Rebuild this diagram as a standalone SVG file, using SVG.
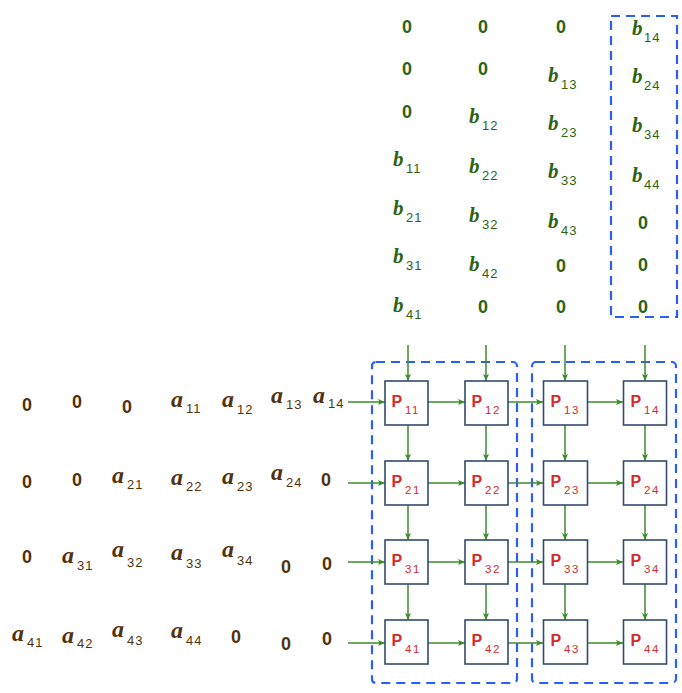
<svg xmlns="http://www.w3.org/2000/svg" width="682" height="693" viewBox="0 0 682 693">
<defs>
<marker id="ah" markerUnits="userSpaceOnUse" markerWidth="8" markerHeight="8" refX="7" refY="3.5" orient="auto">
<path d="M0,0.5 L7,3.5 L0,6.5 L1.5,3.5 z" fill="#3f8a2c"/>
</marker>
<style>
.z{font-family:"Liberation Sans",Arial,sans-serif;font-weight:bold;font-size:18px;text-anchor:middle}
.zb{fill:#2e6410}
.za{fill:#52320e}
.bv{font-family:"Liberation Serif","Times New Roman",serif;font-weight:bold;font-style:italic;font-size:21px;fill:#2e6410}
.av{font-family:"Liberation Serif","Times New Roman",serif;font-weight:bold;font-style:italic;font-size:24px;fill:#52320e}
.sub{font-family:"Liberation Sans",Arial,sans-serif;font-weight:normal;font-style:normal;font-size:13px;letter-spacing:1px}
.pe rect{fill:#fff;stroke:#324b6e;stroke-width:1.6}
.pe text{font-family:"Liberation Sans",Arial,sans-serif;fill:#d42a2a}
.pl{font-weight:bold;font-size:16px}
.ps{font-size:11.5px;letter-spacing:1.5px}
.dash{fill:none;stroke:#2a5ef5;stroke-width:2.2;stroke-dasharray:9 6}
.conn line{stroke:#3f8a2c;stroke-width:1.5;marker-end:url(#ah)}
</style>
</defs>
<rect width="682" height="693" fill="#fff"/>

<!-- dashed groups -->
<g id="groups">
<rect class="dash" x="611" y="16" width="66" height="301"/>
<rect class="dash" x="372" y="362" width="145" height="321" rx="4"/>
<rect class="dash" x="532" y="362" width="144" height="321" rx="4"/>
</g>

<!-- B matrix stream -->
<g id="b-stream">
<text class="z zb" x="407" y="33">0</text>
<text class="z zb" x="407" y="75">0</text>
<text class="z zb" x="407" y="118">0</text>
<text class="bv"><tspan x="393" y="166">b</tspan><tspan class="sub" x="406" y="173">11</tspan></text>
<text class="bv"><tspan x="393" y="215">b</tspan><tspan class="sub" x="406" y="222">21</tspan></text>
<text class="bv"><tspan x="393" y="263">b</tspan><tspan class="sub" x="406" y="270">31</tspan></text>
<text class="bv"><tspan x="393" y="312">b</tspan><tspan class="sub" x="406" y="319">41</tspan></text>

<text class="z zb" x="483" y="33">0</text>
<text class="z zb" x="483" y="75">0</text>
<text class="bv"><tspan x="469" y="123">b</tspan><tspan class="sub" x="482" y="130">12</tspan></text>
<text class="bv"><tspan x="469" y="173">b</tspan><tspan class="sub" x="482" y="180">22</tspan></text>
<text class="bv"><tspan x="469" y="222">b</tspan><tspan class="sub" x="482" y="229">32</tspan></text>
<text class="bv"><tspan x="469" y="271">b</tspan><tspan class="sub" x="482" y="278">42</tspan></text>
<text class="z zb" x="483" y="313">0</text>

<text class="z zb" x="561" y="33">0</text>
<text class="bv"><tspan x="548" y="82">b</tspan><tspan class="sub" x="561" y="89">13</tspan></text>
<text class="bv"><tspan x="548" y="130">b</tspan><tspan class="sub" x="561" y="137">23</tspan></text>
<text class="bv"><tspan x="548" y="178">b</tspan><tspan class="sub" x="561" y="185">33</tspan></text>
<text class="bv"><tspan x="548" y="228">b</tspan><tspan class="sub" x="561" y="235">43</tspan></text>
<text class="z zb" x="561" y="272">0</text>
<text class="z zb" x="561" y="313">0</text>

<text class="bv"><tspan x="632" y="35">b</tspan><tspan class="sub" x="644" y="42">14</tspan></text>
<text class="bv"><tspan x="632" y="83">b</tspan><tspan class="sub" x="644" y="90">24</tspan></text>
<text class="bv"><tspan x="632" y="132">b</tspan><tspan class="sub" x="644" y="139">34</tspan></text>
<text class="bv"><tspan x="632" y="182">b</tspan><tspan class="sub" x="644" y="189">44</tspan></text>
<text class="z zb" x="643" y="229">0</text>
<text class="z zb" x="643" y="271">0</text>
<text class="z zb" x="643" y="313">0</text>
</g>

<!-- A matrix stream -->
<g id="a-stream">
<text class="z za" x="27" y="411">0</text>
<text class="z za" x="77" y="408">0</text>
<text class="z za" x="127" y="413">0</text>
<text class="av"><tspan x="171" y="407">a</tspan><tspan class="sub" x="186" y="413">11</tspan></text>
<text class="av"><tspan x="222" y="407">a</tspan><tspan class="sub" x="237" y="414">12</tspan></text>
<text class="av"><tspan x="271" y="403">a</tspan><tspan class="sub" x="286" y="409">13</tspan></text>
<text class="av"><tspan x="313" y="403">a</tspan><tspan class="sub" x="328" y="408">14</tspan></text>

<text class="z za" x="27" y="488">0</text>
<text class="z za" x="77" y="486">0</text>
<text class="av"><tspan x="112" y="483">a</tspan><tspan class="sub" x="127" y="489">21</tspan></text>
<text class="av"><tspan x="171" y="485">a</tspan><tspan class="sub" x="186" y="491">22</tspan></text>
<text class="av"><tspan x="222" y="484">a</tspan><tspan class="sub" x="237" y="491">23</tspan></text>
<text class="av"><tspan x="271" y="480">a</tspan><tspan class="sub" x="286" y="487">24</tspan></text>
<text class="z za" x="326" y="486">0</text>

<text class="z za" x="27" y="563">0</text>
<text class="av"><tspan x="62" y="563">a</tspan><tspan class="sub" x="77" y="570">31</tspan></text>
<text class="av"><tspan x="112" y="557">a</tspan><tspan class="sub" x="127" y="567">32</tspan></text>
<text class="av"><tspan x="171" y="560">a</tspan><tspan class="sub" x="186" y="568">33</tspan></text>
<text class="av"><tspan x="222" y="557">a</tspan><tspan class="sub" x="237" y="565">34</tspan></text>
<text class="z za" x="286" y="573">0</text>
<text class="z za" x="327" y="570">0</text>

<text class="av"><tspan x="12" y="641">a</tspan><tspan class="sub" x="27" y="647">41</tspan></text>
<text class="av"><tspan x="62" y="643">a</tspan><tspan class="sub" x="77" y="648">42</tspan></text>
<text class="av"><tspan x="112" y="637">a</tspan><tspan class="sub" x="127" y="645">43</tspan></text>
<text class="av"><tspan x="171" y="638">a</tspan><tspan class="sub" x="186" y="645">44</tspan></text>
<text class="z za" x="236" y="643">0</text>
<text class="z za" x="286" y="650">0</text>
<text class="z za" x="327" y="645">0</text>
</g>

<!-- connectors -->
<g id="connectors" class="conn">
<line x1="408" y1="345" x2="408" y2="381"/>
<line x1="486" y1="345" x2="486" y2="381"/>
<line x1="565" y1="345" x2="565" y2="381"/>
<line x1="645" y1="345" x2="645" y2="381"/>
<line x1="408" y1="425" x2="408" y2="461"/>
<line x1="486" y1="425" x2="486" y2="461"/>
<line x1="565" y1="425" x2="565" y2="461"/>
<line x1="645" y1="425" x2="645" y2="461"/>
<line x1="408" y1="505" x2="408" y2="540"/>
<line x1="486" y1="505" x2="486" y2="540"/>
<line x1="565" y1="505" x2="565" y2="540"/>
<line x1="645" y1="505" x2="645" y2="540"/>
<line x1="408" y1="584" x2="408" y2="620"/>
<line x1="486" y1="584" x2="486" y2="620"/>
<line x1="565" y1="584" x2="565" y2="620"/>
<line x1="645" y1="584" x2="645" y2="620"/>
<line x1="348" y1="402" x2="385" y2="402"/>
<line x1="428" y1="402" x2="465" y2="402"/>
<line x1="508" y1="402" x2="543" y2="402"/>
<line x1="588" y1="402" x2="623" y2="402"/>
<line x1="348" y1="483" x2="385" y2="483"/>
<line x1="428" y1="483" x2="465" y2="483"/>
<line x1="508" y1="483" x2="543" y2="483"/>
<line x1="588" y1="483" x2="623" y2="483"/>
<line x1="348" y1="562" x2="385" y2="562"/>
<line x1="428" y1="562" x2="465" y2="562"/>
<line x1="508" y1="562" x2="543" y2="562"/>
<line x1="588" y1="562" x2="623" y2="562"/>
<line x1="348" y1="643" x2="385" y2="643"/>
<line x1="428" y1="643" x2="465" y2="643"/>
<line x1="508" y1="643" x2="543" y2="643"/>
<line x1="588" y1="643" x2="623" y2="643"/>
</g>

<!-- processing elements -->
<g id="P11" class="pe"><rect x="385" y="381" width="43" height="44"/><text><tspan class="pl" x="391.5" y="407">P</tspan><tspan class="ps" x="405" y="414">11</tspan></text></g>
<g id="P12" class="pe"><rect x="465" y="381" width="43" height="44"/><text><tspan class="pl" x="471.5" y="407">P</tspan><tspan class="ps" x="485" y="414">12</tspan></text></g>
<g id="P13" class="pe"><rect x="543.5" y="381" width="44" height="44"/><text><tspan class="pl" x="550.5" y="407">P</tspan><tspan class="ps" x="564" y="414">13</tspan></text></g>
<g id="P14" class="pe"><rect x="623.5" y="381" width="43" height="44"/><text><tspan class="pl" x="630.5" y="407">P</tspan><tspan class="ps" x="644" y="414">14</tspan></text></g>

<g id="P21" class="pe"><rect x="385" y="461" width="43" height="44"/><text><tspan class="pl" x="391.5" y="487">P</tspan><tspan class="ps" x="405" y="494">21</tspan></text></g>
<g id="P22" class="pe"><rect x="465" y="461" width="43" height="44"/><text><tspan class="pl" x="471.5" y="487">P</tspan><tspan class="ps" x="485" y="494">22</tspan></text></g>
<g id="P23" class="pe"><rect x="543.5" y="461" width="44" height="44"/><text><tspan class="pl" x="550.5" y="487">P</tspan><tspan class="ps" x="564" y="494">23</tspan></text></g>
<g id="P24" class="pe"><rect x="623.5" y="461" width="43" height="44"/><text><tspan class="pl" x="630.5" y="487">P</tspan><tspan class="ps" x="644" y="494">24</tspan></text></g>

<g id="P31" class="pe"><rect x="385" y="540" width="43" height="44"/><text><tspan class="pl" x="391.5" y="566">P</tspan><tspan class="ps" x="405" y="573">31</tspan></text></g>
<g id="P32" class="pe"><rect x="465" y="540" width="43" height="44"/><text><tspan class="pl" x="471.5" y="566">P</tspan><tspan class="ps" x="485" y="573">32</tspan></text></g>
<g id="P33" class="pe"><rect x="543.5" y="540" width="44" height="44"/><text><tspan class="pl" x="550.5" y="566">P</tspan><tspan class="ps" x="564" y="573">33</tspan></text></g>
<g id="P34" class="pe"><rect x="623.5" y="540" width="43" height="44"/><text><tspan class="pl" x="630.5" y="566">P</tspan><tspan class="ps" x="644" y="573">34</tspan></text></g>

<g id="P41" class="pe"><rect x="385" y="620" width="43" height="44"/><text><tspan class="pl" x="391.5" y="646">P</tspan><tspan class="ps" x="405" y="653">41</tspan></text></g>
<g id="P42" class="pe"><rect x="465" y="620" width="43" height="44"/><text><tspan class="pl" x="471.5" y="646">P</tspan><tspan class="ps" x="485" y="653">42</tspan></text></g>
<g id="P43" class="pe"><rect x="543.5" y="620" width="44" height="44"/><text><tspan class="pl" x="550.5" y="646">P</tspan><tspan class="ps" x="564" y="653">43</tspan></text></g>
<g id="P44" class="pe"><rect x="623.5" y="620" width="43" height="44"/><text><tspan class="pl" x="630.5" y="646">P</tspan><tspan class="ps" x="644" y="653">44</tspan></text></g>
</svg>
